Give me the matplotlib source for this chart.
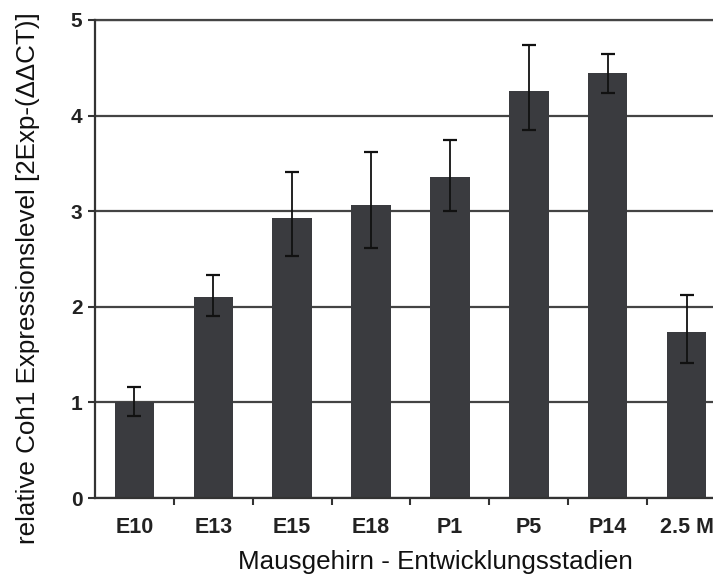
import numpy as np
import matplotlib.pyplot as plt

stadien = ['E10', 'E13', 'E15', 'E18', 'P1', 'P5', 'P14', '2.5 M']
werte = [1.00, 2.10, 2.93, 3.06, 3.36, 4.26, 4.45, 1.74]
fehler_unten = [0.14, 0.20, 0.40, 0.45, 0.36, 0.41, 0.21, 0.33]
fehler_oben = [0.16, 0.23, 0.48, 0.56, 0.38, 0.48, 0.19, 0.38]
y_ticks = [0, 1, 2, 3, 4, 5]

plt.rcParams['font.family'] = ['Liberation Sans', 'DejaVu Sans']

fig = plt.figure(figsize=(7.13, 5.76), dpi=100)
ax = fig.add_axes([0.1332, 0.1354, 0.885, 0.8299])

x = np.arange(len(stadien))
ax.bar(x, werte, width=0.5, color='#3a3b3f', zorder=2)
ax.errorbar(x, werte, yerr=[fehler_unten, fehler_oben], fmt='none',
            ecolor='#111111', elinewidth=1.3, capsize=5, capthick=1.6, zorder=3)

ax.set_xlim(-0.5, len(stadien) - 0.5)
ax.set_ylim(0, 5)
ax.set_yticks(y_ticks)
ax.set_yticklabels([str(t) for t in y_ticks], fontsize=15, fontweight='bold', color='#222222')
ax.set_xticks(x)
ax.set_xticklabels(stadien, fontsize=15.5, fontweight='bold', color='#222222')
ax.set_xticks(x[:-1] + 0.5, minor=True)
ax.tick_params(axis='x', which='major', length=0, pad=14)
ax.tick_params(axis='x', which='minor', length=5, width=1.5, color='#333333')
ax.tick_params(axis='y', length=5, width=1.5, color='#333333', pad=4)

# Gitterlinien
ax.yaxis.grid(True, color='#444444', linewidth=1.6, zorder=1)
ax.set_axisbelow(True)
for s in ['top', 'right']:
    ax.spines[s].set_visible(False)
ax.axhline(5, color='#444444', linewidth=1.6, clip_on=False)
ax.spines['left'].set_linewidth(1.6)
ax.spines['left'].set_color('#333333')
ax.spines['bottom'].set_linewidth(1.6)
ax.spines['bottom'].set_color('#333333')

ax.set_xlabel('Mausgehirn - Entwicklungsstadien', fontsize=18.7, color='#111111', va='center')
ax.xaxis.set_label_coords(0.54, -0.134)
ax.set_ylabel('relative Coh1 Expressionslevel [2Exp-(ΔΔCT)]', fontsize=18.7, color='#111111',
              va='center', ha='center')
ax.yaxis.set_label_coords(-0.106, 0.46)

plt.savefig('out.png', dpi=100)
